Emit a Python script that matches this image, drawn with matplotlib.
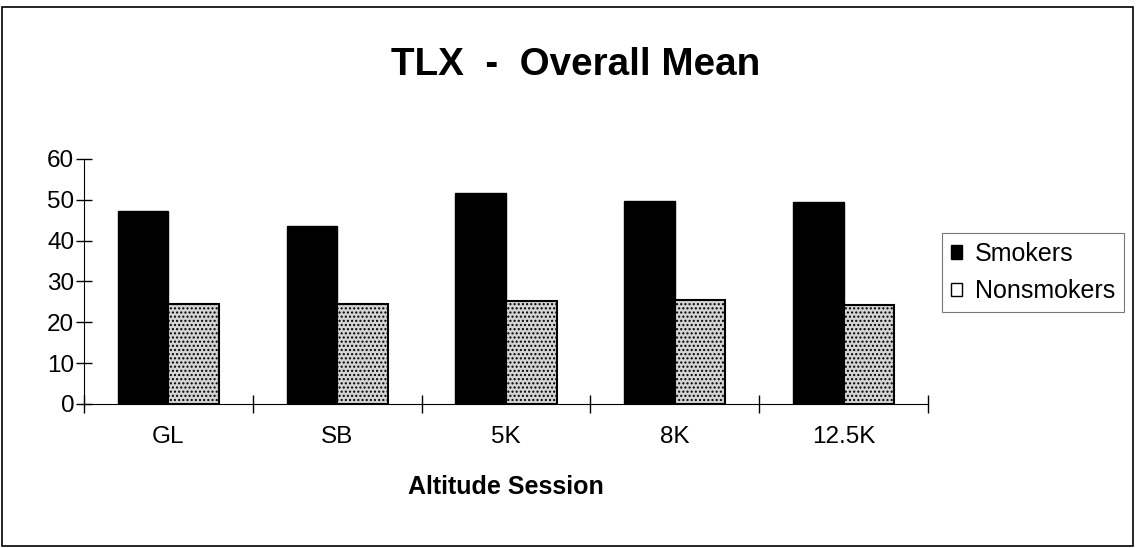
import numpy as np
import matplotlib.pyplot as plt
from matplotlib.patches import Rectangle, Patch

plt.rcParams['font.family'] = ['Liberation Sans', 'DejaVu Sans']
plt.rcParams['hatch.color'] = '#9a9a9a'

sessions = ['GL', 'SB', '5K', '8K', '12.5K']
smokers = [47.3, 43.6, 51.7, 49.8, 49.5]
nonsmokers = [24.5, 24.6, 25.3, 25.5, 24.2]

fig = plt.figure(figsize=(11.36, 5.48), dpi=100)
# outer frame
fig.patches.append(Rectangle((0.002, 0.004), 0.995, 0.983, transform=fig.transFigure,
                             fill=False, edgecolor='black', linewidth=1.2))

ax = fig.add_axes([0.0739, 0.2628, 0.743, 0.4471])
x = np.arange(len(sessions))
w = 0.3
ax.bar(x - w/2, smokers, w, color='black', edgecolor='black', linewidth=1)
ax.bar(x + w/2, nonsmokers, w, color='#d4d4d4', edgecolor='black', linewidth=1.5,
       hatch='....')

ax.set_xlim(-0.5, len(sessions) - 0.5)
ax.set_ylim(0, 60)
ax.set_yticks(range(0, 61, 10))
ax.set_xticks(np.arange(-0.5, len(sessions), 1.0))
ax.set_xticklabels([])
ax.set_xticks(x, minor=True)
ax.set_xticklabels(sessions, minor=True)
ax.tick_params(axis='x', which='major', direction='inout', length=13, width=1)
ax.tick_params(axis='x', which='minor', length=0, pad=16, labelsize=17.5)
ax.tick_params(axis='y', direction='inout', length=12, width=1, labelsize=17.5, pad=1)
for s in ['top', 'right']:
    ax.spines[s].set_visible(False)

fig.text(0.507, 1 - 75/548, 'TLX  -  Overall Mean', fontsize=27.8, fontweight='bold',
         ha='center', va='baseline')
ax.set_xlabel('Altitude Session', fontsize=18, fontweight='bold', labelpad=19)

handles = [Patch(facecolor='black', edgecolor='black', label='Smokers'),
           Patch(facecolor='white', edgecolor='black', linewidth=1, label='Nonsmokers')]
leg = ax.legend(handles=handles, loc='upper left', bbox_to_anchor=(1.0166, 0.698),
                borderaxespad=0, fontsize=18, handlelength=0.45, handleheight=0.45,
                handletextpad=0.5, fancybox=False, borderpad=0.35, labelspacing=0.55)
leg.get_frame().set_edgecolor('#555555')
leg.get_frame().set_linewidth(0.8)

fig.savefig('out.png', dpi=100)
